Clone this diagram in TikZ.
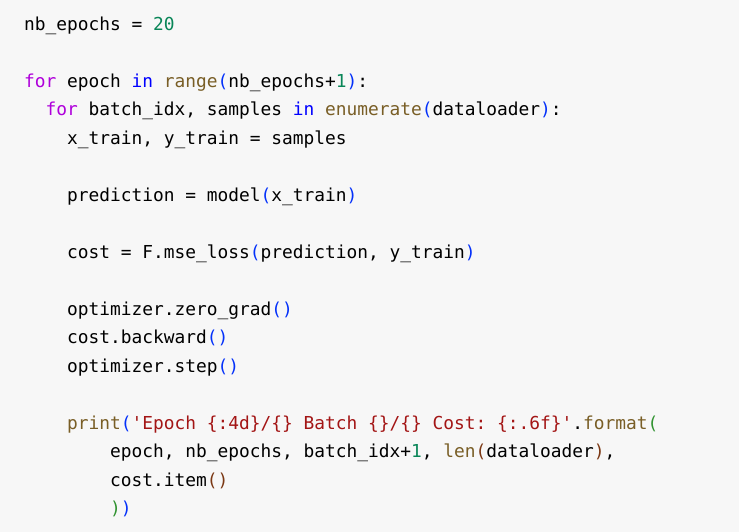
\documentclass[tikz,border=0pt]{standalone}
\usepackage{fontspec}
\setmonofont{DejaVu Sans Mono}
\definecolor{bgc}{HTML}{F7F7F7}
\definecolor{kwc}{HTML}{AF00DB}
\definecolor{inc}{HTML}{0000FF}
\definecolor{fnc}{HTML}{795E26}
\definecolor{numc}{HTML}{098658}
\definecolor{strc}{HTML}{A31515}
\definecolor{bac}{HTML}{0431FA}
\definecolor{bbc}{HTML}{319331}
\definecolor{bcc}{HTML}{7B3814}
\newcommand{\kw}[1]{\textcolor{kwc}{#1}}
\newcommand{\kin}[1]{\textcolor{inc}{#1}}
\newcommand{\fn}[1]{\textcolor{fnc}{#1}}
\newcommand{\num}[1]{\textcolor{numc}{#1}}
\newcommand{\str}[1]{\textcolor{strc}{#1}}
\newcommand{\bA}[1]{\textcolor{bac}{#1}}
\newcommand{\bB}[1]{\textcolor{bbc}{#1}}
\newcommand{\bC}[1]{\textcolor{bcc}{#1}}
\begin{document}
\begin{tikzpicture}[x=1pt,y=-1pt,
  codeline/.style={anchor=base west,inner sep=0pt,outer sep=0pt,
    font=\ttfamily\fontsize{17.86}{20}\selectfont,text=black}]
\fill[bgc] (0,0) rectangle (739,532);
\useasboundingbox (0,0) rectangle (739,532);
\def\cw{10.75}
\def\lh{28.48}
\node[codeline] (l0) at (24,30.5) {nb\_epochs = \num{20}};
\node[codeline] (l2) at (24,30.5+2*\lh) {\kw{for} epoch \kin{in} \fn{range}\bA{(}nb\_epochs+\num{1}\bA{)}:};
\node[codeline] (l3) at (24+2*\cw,30.5+3*\lh) {\kw{for} batch\_idx, samples \kin{in} \fn{enumerate}\bA{(}dataloader\bA{)}:};
\node[codeline] (l4) at (24+4*\cw,30.5+4*\lh) {x\_train, y\_train = samples};
\node[codeline] (l6) at (24+4*\cw,30.5+6*\lh) {prediction = model\bA{(}x\_train\bA{)}};
\node[codeline] (l8) at (24+4*\cw,30.5+8*\lh) {cost = F.mse\_loss\bA{(}prediction, y\_train\bA{)}};
\node[codeline] (l10) at (24+4*\cw,30.5+10*\lh) {optimizer.zero\_grad\bA{()}};
\node[codeline] (l11) at (24+4*\cw,30.5+11*\lh) {cost.backward\bA{()}};
\node[codeline] (l12) at (24+4*\cw,30.5+12*\lh) {optimizer.step\bA{()}};
\node[codeline] (l14) at (24+4*\cw,30.5+14*\lh) {\fn{print}\bA{(}\str{'Epoch \{:4d\}/\{\} Batch \{\}/\{\} Cost: \{:.6f\}'}.\fn{format}\bB{(}};
\node[codeline] (l15) at (24+8*\cw,30.5+15*\lh) {epoch, nb\_epochs, batch\_idx+\num{1}, \fn{len}\bC{(}dataloader\bC{)},};
\node[codeline] (l16) at (24+8*\cw,30.5+16*\lh) {cost.item\bC{()}};
\node[codeline] (l17) at (24+8*\cw,30.5+17*\lh) {\bB{)}\bA{)}};
\end{tikzpicture}
\end{document}
